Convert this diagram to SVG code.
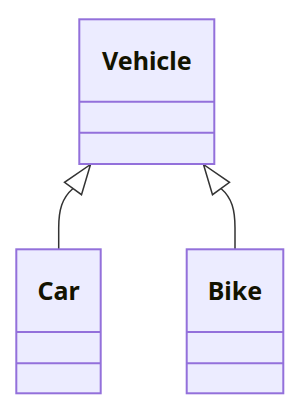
<svg xmlns="http://www.w3.org/2000/svg" width="300" height="416" viewBox="0 0 300 416">
<style>
.box{fill:#ECECFF;stroke:#9370DB;stroke-width:2}
.div{stroke:#9370DB;stroke-width:2}
.title{font-family:"Noto Sans","DejaVu Sans",sans-serif;font-weight:bold;font-size:25px;fill:#131300;text-anchor:middle}
.edge{fill:none;stroke:#333333;stroke-width:1.5}
.head{fill:#ffffff;stroke:#333333;stroke-width:1.5;stroke-linejoin:miter}
</style>
<rect width="300" height="416" fill="#ffffff"/>
<g id="connectors">
<path class="edge" d="M58.7,249.3 L58.7,228 C58.7,210 62,198 73,188.5"/>
<polygon class="head" points="90.5,164.5 81.5,194.7 64.5,182.3"/>
<path class="edge" d="M235,249.3 L235,228 C235,210 232,198 221,188.5"/>
<polygon class="head" points="203.5,164.5 212.5,194.7 229.5,182.3"/>
</g>
<g id="Vehicle">
<rect class="box" x="79.3" y="19.3" width="135" height="144.7"/>
<line class="div" x1="79.3" y1="101.7" x2="214.3" y2="101.7"/>
<line class="div" x1="79.3" y1="132.7" x2="214.3" y2="132.7"/>
<text class="title" x="146.8" y="69.5">Vehicle</text>
</g>
<g id="Car">
<rect class="box" x="16.3" y="249.3" width="84.4" height="144"/>
<line class="div" x1="16.3" y1="332" x2="100.7" y2="332"/>
<line class="div" x1="16.3" y1="363.3" x2="100.7" y2="363.3"/>
<text class="title" x="58.5" y="299.5">Car</text>
</g>
<g id="Bike">
<rect class="box" x="186.7" y="249.3" width="96.6" height="144"/>
<line class="div" x1="186.7" y1="332" x2="283.3" y2="332"/>
<line class="div" x1="186.7" y1="363.3" x2="283.3" y2="363.3"/>
<text class="title" x="235" y="299.5">Bike</text>
</g>
</svg>
